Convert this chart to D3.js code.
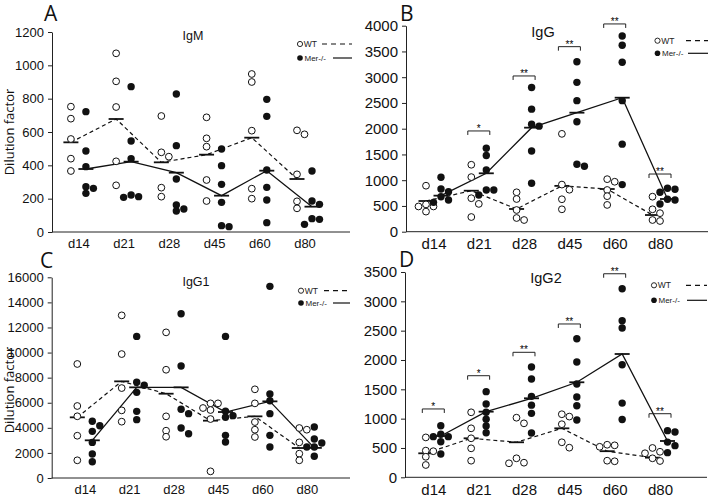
<!DOCTYPE html>
<html><head><meta charset="utf-8">
<script src="https://cdn.jsdelivr.net/npm/d3@7"></script>
<style>body{margin:0;background:#fff}svg{display:block}</style>
</head><body><svg id="chart" width="714" height="498"></svg>
<script>
// ---------- DATA ----------
const days = ["d14","d21","d28","d45","d60","d80"];

// Panel A: IgM
const igmWT = [[752,680,558,440,366],[1072,904,750,424,280],[696,478,452,266,212],[688,562,512,312,186],[948,900,608,260,200],[610,586,346,184,142]];
const igmMer = [[722,486,392,272,262,232],[872,546,440,222,212,208],[828,518,318,162,138,126],[498,398,286,178,38,32],[796,694,372,268,192,56],[366,186,166,80,76,46]];
const igmMeanWT = [538,678,418,464,566,318];
const igmMeanMer = [378,422,356,218,368,152];
const igmTicks = [0,200,400,600,800,1000,1200];

// Panel B: IgG
const iggWT = [[893,530,490,490,390],[1300,1060,650,540,285],[765,635,421,266,227],[1900,915,815,630,435],[1020,970,810,690,520],[680,435,360,227,208]];
const iggMer = [[1056,829,777,680,616,570],[1620,1480,1200,810,810,713],[2800,2380,2085,2050,1567,940],[3300,2900,2545,2135,1310,1270],[3800,3620,3290,2545,1700,915],[843,823,765,629,616,538]];
const iggMeanWT = [596,796,441,890,829,324];
const iggMeanMer = [700,1134,2020,2311,2602,635];
const iggTicks = [0,500,1000,1500,2000,2500,3000,3500,4000];
const iggSigDays = ["d21","d28","d45","d60","d80"];
const iggSigLabels = ["*","**","**","**","**"];
const iggSigLevels = [1956,3024,3593,4034,1120];

// Panel C: IgG1
const igg1WT = [[9090,5740,4920,3370,1410],[12965,9880,7170,5390,4490],[11610,8630,4915,3770,3290],[5950,5950,5580,5420,4700,530],[7070,5950,4460,3850,3270],[3985,3850,2840,1940,1410]];
const igg1Mer = [[4520,4170,3720,2840,1910,1300],[11290,7630,7390,6830,5315,4650],[13100,8930,5480,5130,3990,3530],[11290,5320,4970,4840,3400,2870],[15280,6695,6160,5130,3400,2470],[4065,3110,2790,2470,2470,1730]];
const igg1MeanWT = [4836,7705,6720,4570,4915,2390];
const igg1MeanMer = [3003,7226,7226,5260,6110,2400];
const igg1Ticks = [0,2000,4000,6000,8000,10000,12000,14000,16000];

// Panel D: IgG2
const igg2WT = [[680,455,445,350,210],[1108,835,665,494,283],[1016,920,324,249,239],[1075,1035,905,597,505],[555,545,520,283,273],[500,435,410,324,278]];
const igg2Mer = [[880,733,693,693,607,397],[1460,1250,1108,989,875,760],[1880,1676,1380,1230,1090,755],[2363,1966,1591,1369,1221,977],[3215,2670,2545,1920,1265,985],[795,772,600,540,420]];
const igg2MeanWT = [409,665,597,835,445,335];
const igg2MeanMer = [704,1119,1347,1620,2102,619];
const igg2Ticks = [0,500,1000,1500,2000,2500,3000,3500];
const igg2SigDays = ["d14","d21","d28","d45","d60","d80"];
const igg2SigLabels = ["*","*","**","**","**","**"];
const igg2SigLevels = [1165,1732,2131,2614,3470,1084];

const groupLabels = ["WT","Mer-/-"];

// ---------- DRAWING ----------
const svg = d3.select("#chart");
const tickFont = "'Liberation Sans', Arial, sans-serif";
const labFont = "'Open Sans', 'Liberation Sans', sans-serif";

function dodge(vals, y, tol){
  const pts = vals.map(v => ({v, py: y(v)})).sort((a,b) => a.py - b.py);
  const placed = [];
  pts.forEach(p => {
    for (const k of [0,1,-1,2,-2]) {
      if (!placed.some(q => q.k === k && Math.abs(q.py - p.py) < tol)) { p.k = k; break; }
    }
    placed.push(p);
  });
  return placed;
}

function drawPanel(c){
  const g = svg.append("g");
  const y = d3.scaleLinear().domain([0, c.max]).range([c.y0, c.yTop]);
  const x = d3.scalePoint().domain(days).range([c.c0, c.c5]);
  const off = 7.5;

  // y axis
  const ya = g.append("g").attr("transform", `translate(${c.x0},0)`)
    .call(d3.axisLeft(y).tickValues(c.ticks).tickFormat(d3.format("d")).tickSize(4).tickSizeOuter(0).tickPadding(4));
  ya.selectAll("text").style("font-family", tickFont).style("font-size", c.fs + "px").attr("fill", "#111");
  ya.selectAll("line,path").attr("stroke", "#222");

  // x axis
  const xa = g.append("g").attr("transform", `translate(0,${c.y0})`)
    .call(d3.axisBottom(x).tickSize(0).tickPadding(c.xpad));
  xa.select(".domain").remove();
  xa.selectAll("text").style("font-family", tickFont).style("font-size", c.fs + "px").attr("fill", "#111");
  g.append("line").attr("x1", c.x0).attr("x2", c.xEnd).attr("y1", c.y0).attr("y2", c.y0)
    .attr("stroke", "#222").attr("stroke-width", 1);

  // mean lines
  const lineWT = d3.line().x((d,i) => x(days[i]) - off).y(d => y(d));
  const lineMer = d3.line().x((d,i) => x(days[i]) + off).y(d => y(d));
  g.append("path").attr("d", lineWT(c.meanWT)).attr("fill", "none").attr("stroke", "#111")
    .attr("stroke-width", 1.2).attr("stroke-dasharray", "4,3");
  g.append("path").attr("d", lineMer(c.meanMer)).attr("fill", "none").attr("stroke", "#111")
    .attr("stroke-width", 1.3);

  // mean bars
  [[c.meanWT, -off], [c.meanMer, off]].forEach(([m, o]) => {
    g.selectAll(null).data(m).enter().append("line")
      .attr("x1", (d,i) => x(days[i]) + o - 7.5).attr("x2", (d,i) => x(days[i]) + o + 7.5)
      .attr("y1", d => y(d)).attr("y2", d => y(d))
      .attr("stroke", "#111").attr("stroke-width", 1.8);
  });

  // points
  days.forEach((dname, i) => {
    dodge(c.wt[i], y, 6).forEach(p => {
      g.append("circle").attr("cx", x(dname) - off + p.k * 7.5).attr("cy", p.py).attr("r", 3.4)
        .attr("fill", "#fff").attr("stroke", "#111").attr("stroke-width", 1);
    });
    dodge(c.mer[i], y, 6).forEach(p => {
      g.append("circle").attr("cx", x(dname) + off + p.k * 7.5).attr("cy", p.py).attr("r", 3.7)
        .attr("fill", "#111").attr("stroke", "none");
    });
  });

  // significance brackets
  if (c.sigDays) {
    c.sigDays.forEach((dname, i) => {
      const cx = x(dname), ly = y(c.sigLevels[i]);
      g.append("path").attr("d", `M${cx-11},${ly+4}V${ly}H${cx+11}V${ly+4}`)
        .attr("fill", "none").attr("stroke", "#222").attr("stroke-width", 1);
      g.append("text").attr("x", cx).attr("y", ly + 1).attr("text-anchor", "middle")
        .style("font-family", tickFont).style("font-size", "10px").attr("fill", "#000")
        .text(c.sigLabels[i]);
    });
  }

  // legend
  const L = c.leg;
  g.append("circle").attr("cx", L.x).attr("cy", L.y1).attr("r", 2.6).attr("fill", "#fff")
    .attr("stroke", "#111").attr("stroke-width", 0.9);
  g.append("circle").attr("cx", L.x).attr("cy", L.y2).attr("r", 2.8).attr("fill", "#111");
  g.append("text").attr("x", L.x + 3.8).attr("y", L.y1 + 3).text(groupLabels[0])
    .style("font-family", tickFont).style("font-size", "8.5px").attr("fill", "#222");
  g.append("text").attr("x", L.x + 4.5).attr("y", L.y2 + 3).text(groupLabels[1])
    .style("font-family", tickFont).style("font-size", "8px").attr("fill", "#222");
  g.append("line").attr("x1", L.d1).attr("x2", L.end).attr("y1", L.y1).attr("y2", L.y1)
    .attr("stroke", "#111").attr("stroke-width", 1.2).attr("stroke-dasharray", "5,4");
  g.append("line").attr("x1", L.m1).attr("x2", L.end).attr("y1", L.y2).attr("y2", L.y2)
    .attr("stroke", "#111").attr("stroke-width", 1.2);

  // title
  g.append("text").attr("x", c.title[1]).attr("y", c.title[2]).attr("text-anchor", "middle")
    .text(c.title[0]).style("font-family", tickFont).style("font-size", c.tfs + "px").attr("fill", "#111");
  // panel letter
  g.append("text").attr("x", c.letter[1]).attr("y", c.letter[2]).text(c.letter[0])
    .style("font-family", labFont).style("font-size", "21px").attr("fill", "#111");
  // y label
  if (c.ylab) {
    g.append("text").attr("transform", `translate(${c.ylab[0]},${c.ylab[1]}) rotate(-90)`)
      .attr("text-anchor", "middle").attr("dy", "0.35em").text("Dilution factor")
      .style("font-family", labFont).style("font-size", "13px").attr("fill", "#111");
  }
}

drawPanel({x0:52, xEnd:350, y0:232, yTop:32, max:1200, c0:78.4, c5:304.5, ticks:igmTicks, fs:13, xpad:7,
  wt:igmWT, mer:igmMer, meanWT:igmMeanWT, meanMer:igmMeanMer,
  leg:{x:300, y1:44, y2:58, d1:322, m1:333, end:352}, title:["IgM",193,40], tfs:12.5,
  letter:["A",44,21], ylab:[9.5,132]});
drawPanel({x0:406, xEnd:708, y0:231.7, yTop:25.7, max:4000, c0:433.5, c5:660, ticks:iggTicks, fs:15, xpad:7,
  wt:iggWT, mer:iggMer, meanWT:iggMeanWT, meanMer:iggMeanMer,
  sigDays:iggSigDays, sigLabels:iggSigLabels, sigLevels:iggSigLevels,
  leg:{x:657.5, y1:40.7, y2:53.3, d1:686, m1:688, end:708}, title:["IgG",543,37], tfs:14.5,
  letter:["B",400,21]});
drawPanel({x0:51.7, xEnd:350, y0:478, yTop:277.3, max:16000, c0:84.8, c5:306.8, ticks:igg1Ticks, fs:13, xpad:7,
  wt:igg1WT, mer:igg1Mer, meanWT:igg1MeanWT, meanMer:igg1MeanMer,
  leg:{x:301, y1:290.7, y2:303, d1:324, m1:333, end:350}, title:["IgG1",196,286], tfs:12.5,
  letter:["C",40,268], ylab:[9.5,390]});
drawPanel({x0:405, xEnd:707, y0:477.3, yTop:272, max:3500, c0:433.3, c5:660, ticks:igg2Ticks, fs:15, xpad:7,
  wt:igg2WT, mer:igg2Mer, meanWT:igg2MeanWT, meanMer:igg2MeanMer,
  sigDays:igg2SigDays, sigLabels:igg2SigLabels, sigLevels:igg2SigLevels,
  leg:{x:654, y1:285.3, y2:300.3, d1:686, m1:687, end:707}, title:["IgG2",546,283], tfs:14.5,
  letter:["D",399,267]});
</script></body></html>
